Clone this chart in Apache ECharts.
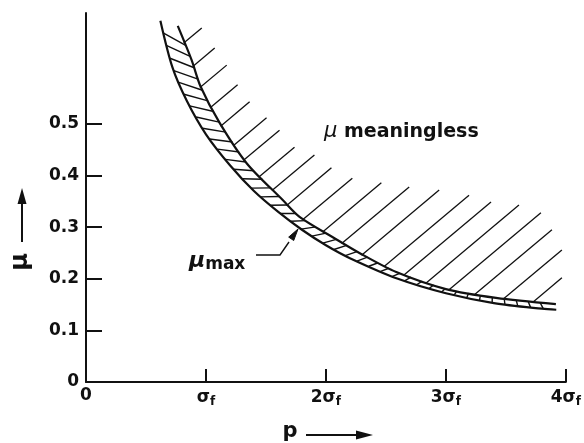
<!DOCTYPE html>
<html>
<head>
<meta charset="utf-8">
<script src="https://cdn.jsdelivr.net/npm/echarts@6/dist/echarts.min.js"></script>
<style>
  html, body { margin: 0; padding: 0; background: #fff; }
  #chart { width: 584px; height: 443px; }
</style>
</head>
<body>
<div id="chart"></div>
<script>
var FONT = '"DejaVu Sans", sans-serif';
var INK = '#111';

// axes
var xTicks = [0, 1, 2, 3, 4];
var xTickLabels = ['0', 'σ', '2σ', '3σ', '4σ'];
var yTicks = [0, 0.1, 0.2, 0.3, 0.4, 0.5];

// lower curve of the band (mu max)
var lowerP  = [0.62, 0.72, 0.84, 1.0, 1.2, 1.4, 1.6, 1.8, 2.0, 2.2, 2.6, 3.0, 3.4, 3.8, 3.92];
var lowerMu = [0.70, 0.61, 0.545, 0.48, 0.42, 0.37, 0.33, 0.295, 0.265, 0.24, 0.20, 0.172, 0.153, 0.142, 0.140];

// upper curve of the band
var upperP  = [0.765, 0.88, 0.956, 1.114, 1.339, 1.638, 1.78, 2.054, 2.279, 2.586, 3.0, 3.418, 3.917];
var upperMu = [0.69, 0.624, 0.572, 0.502, 0.424, 0.353, 0.32, 0.281, 0.25, 0.213, 0.18, 0.163, 0.151];

// top ends of the hatch lines in the "meaningless" region
var hatchEndP  = [0.965, 1.073, 1.173, 1.264, 1.364, 1.505, 1.613, 1.738, 1.904, 2.046, 2.220,
                  2.462, 2.694, 2.944, 3.193, 3.376, 3.609, 3.792, 3.884, 3.967, 3.967];
var hatchEndMu = [0.686, 0.647, 0.614, 0.576, 0.543, 0.512, 0.488, 0.455, 0.440, 0.415, 0.395,
                  0.386, 0.378, 0.372, 0.362, 0.349, 0.343, 0.328, 0.295, 0.256, 0.202];

function pairs(a, b) { return a.map(function (v, i) { return [v, b[i]]; }); }
function toPx(api, ps, ms) { return ps.map(function (p, i) { return api.coord([p, ms[i]]); }); }

function cumul(poly) {
  var c = [0];
  for (var i = 1; i < poly.length; i++) {
    c.push(c[i - 1] + Math.hypot(poly[i][0] - poly[i - 1][0], poly[i][1] - poly[i - 1][1]));
  }
  return c;
}
function arcPoint(poly, c, s) {
  for (var i = 0; i < poly.length - 1; i++) {
    if (c[i + 1] >= s) {
      var f = (s - c[i]) / (c[i + 1] - c[i]);
      return [poly[i][0] + f * (poly[i + 1][0] - poly[i][0]), poly[i][1] + f * (poly[i + 1][1] - poly[i][1])];
    }
  }
  return poly[poly.length - 1];
}
function rayHit(e, d, poly) {
  var best = null;
  for (var i = 0; i < poly.length - 1; i++) {
    var a = poly[i], b = poly[i + 1];
    var w0 = b[0] - a[0], w1 = b[1] - a[1];
    var r0 = a[0] - e[0], r1 = a[1] - e[1];
    var det = -d[0] * w1 + w0 * d[1];
    if (Math.abs(det) < 1e-9) continue;
    var t = (-r0 * w1 + w0 * r1) / det;
    var s = (d[0] * r1 - d[1] * r0) / det;
    if (s >= 0 && s <= 1 && t > 0 && (best === null || t < best)) best = t;
  }
  return best;
}

var chart = echarts.init(document.getElementById('chart'));

chart.setOption({
  animation: false,
  backgroundColor: '#fff',
  grid: { left: 86, right: 17, top: 13, bottom: 61 },
  xAxis: {
    type: 'value',
    min: 0,
    max: 4,
    interval: 1,
    splitLine: { show: false },
    axisLine: { lineStyle: { color: INK, width: 2 } },
    axisTick: { inside: true, length: 13, lineStyle: { color: INK, width: 2 } },
    axisLabel: {
      margin: 5,
      color: INK,
      formatter: function (v) {
        var i = xTicks.indexOf(v);
        if (i <= 0) return '{a|' + xTickLabels[0] + '}';
        return '{a|' + xTickLabels[i] + '}{s|f}';
      },
      rich: {
        a: { fontSize: 17, fontWeight: 'bold', fontFamily: FONT, color: INK },
        s: { fontSize: 12, fontWeight: 'bold', fontFamily: FONT, color: INK, padding: [9, 0, 0, 0] }
      }
    }
  },
  yAxis: {
    type: 'value',
    min: 0,
    max: 0.715,
    splitLine: { show: false },
    axisLine: { show: true, lineStyle: { color: INK, width: 2 } },
    axisTick: { show: true, inside: true, length: 16, customValues: yTicks, lineStyle: { color: INK, width: 2 } },
    axisLabel: {
      customValues: yTicks,
      margin: 7,
      fontSize: 17,
      fontWeight: 'bold',
      fontFamily: FONT,
      color: INK,
      formatter: function (v) { return v === 0 ? '0' : v.toFixed(1); }
    }
  },
  series: [
    {
      // hatch lines above the band
      type: 'custom',
      z: 1,
      silent: true,
      data: pairs(hatchEndP, hatchEndMu),
      renderItem: function (params, api) {
        var U = toPx(api, upperP, upperMu);
        var e = api.coord([api.value(0), api.value(1)]);
        var ang = 40 * Math.PI / 180;
        var d = [-Math.cos(ang), Math.sin(ang)];
        var t = rayHit(e, d, U);
        if (t === null) return;
        return {
          type: 'line',
          shape: { x1: e[0], y1: e[1], x2: e[0] + d[0] * (t + 1), y2: e[1] + d[1] * (t + 1) },
          style: { stroke: INK, lineWidth: 1.3 }
        };
      }
    },
    {
      // short slanted strokes inside the band
      type: 'custom',
      z: 1,
      silent: true,
      data: [[0, 0]],
      renderItem: function (params, api) {
        var L = toPx(api, lowerP, lowerMu), U = toPx(api, upperP, upperMu);
        var cl = cumul(L), cu = cumul(U);
        var lenL = cl[cl.length - 1], lenU = cu[cu.length - 1];
        var n = Math.round(lenL / 13);
        var kids = [];
        for (var k = 1; k < n; k++) {
          var f = k / n;
          var off = 9 - 13 * f;
          var a = arcPoint(L, cl, f * lenL);
          var b = arcPoint(U, cu, Math.min(lenU, Math.max(0, f * lenU + off)));
          kids.push({ type: 'line', shape: { x1: a[0], y1: a[1], x2: b[0], y2: b[1] },
                      style: { stroke: INK, lineWidth: 1.4 } });
        }
        return { type: 'group', children: kids };
      }
    },
    {
      type: 'line',
      z: 3,
      silent: true,
      data: pairs(lowerP, lowerMu),
      smooth: 0.3,
      symbol: 'none',
      lineStyle: { color: INK, width: 2.2 }
    },
    {
      type: 'line',
      z: 3,
      silent: true,
      data: pairs(upperP, upperMu),
      smooth: 0.3,
      symbol: 'none',
      lineStyle: { color: INK, width: 2.2 }
    }
  ],
  graphic: [
    // y axis name with arrow
    { type: 'text', x: 21, y: 262, rotation: Math.PI / 2,
      style: { text: 'μ', font: 'bold 24px ' + FONT, fill: INK, align: 'center', verticalAlign: 'middle' } },
    { type: 'line', shape: { x1: 22, y1: 242, x2: 22, y2: 200 }, style: { stroke: INK, lineWidth: 2 } },
    { type: 'polygon', shape: { points: [[22, 188], [17.5, 204], [26.5, 204]] }, style: { fill: INK } },
    // x axis name with arrow
    { type: 'text', x: 290, y: 432,
      style: { text: 'p', font: 'bold 21px ' + FONT, fill: INK, align: 'center', verticalAlign: 'middle' } },
    { type: 'line', shape: { x1: 306, y1: 435, x2: 360, y2: 435 }, style: { stroke: INK, lineWidth: 2 } },
    { type: 'polygon', shape: { points: [[373, 435], [356, 430.5], [356, 439.5]] }, style: { fill: INK } },
    // region label
    { type: 'text', x: 324, y: 132,
      style: {
        text: '{m|μ}  {w|meaningless}',
        verticalAlign: 'middle',
        rich: {
          m: { fontSize: 21, fontFamily: FONT, fill: INK, fontStyle: 'italic' },
          w: { fontSize: 19, fontFamily: FONT, fill: INK, fontWeight: 'bold' }
        }
      } },
    // mu max label with leader
    { type: 'text', x: 189, y: 261,
      style: {
        text: '{m|μ}{s|max}',
        verticalAlign: 'middle',
        rich: {
          m: { fontSize: 22, fontFamily: FONT, fill: INK, fontStyle: 'italic', fontWeight: 'bold' },
          s: { fontSize: 17, fontFamily: FONT, fill: INK, fontWeight: 'bold', padding: [8, 0, 0, 0] }
        }
      } },
    { type: 'polyline', shape: { points: [[256, 255], [280, 255], [289, 242]] },
      style: { stroke: INK, lineWidth: 1.4, fill: null } },
    { type: 'polygon', shape: { points: [[298, 229], [293.7, 240.5], [288.7, 237.1]] },
      style: { fill: INK, stroke: INK, lineWidth: 1 } }
  ]
});

window.addEventListener('resize', function () { chart.resize(); });
</script>
</body>
</html>
